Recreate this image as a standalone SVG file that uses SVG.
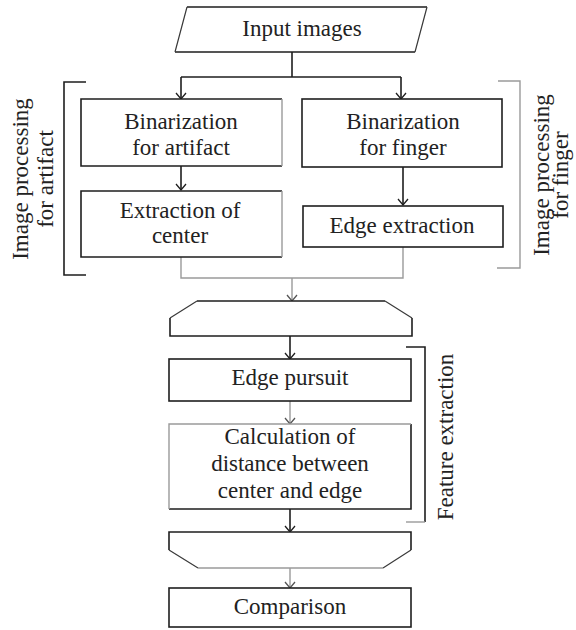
<svg xmlns="http://www.w3.org/2000/svg" width="576" height="630" viewBox="0 0 576 630">
<style>
  .bg{fill:#ffffff}
  .k{fill:none;stroke:#1e1e1e;stroke-width:1.6}
  .s{fill:none;stroke:#3a3a3a;stroke-width:1.2}
  .g{fill:none;stroke:#9a9a9a;stroke-width:1.4}
  .box{fill:#ffffff}
  text{font-family:"Liberation Serif","Times New Roman",serif;font-size:23px;fill:#222;text-anchor:middle}
</style>
<defs>
  <marker id="ak" markerUnits="userSpaceOnUse" markerWidth="14" markerHeight="14" viewBox="-8 -7 10 14" refX="0" refY="0" orient="auto">
    <path d="M-6,-5 L0,0 L-6,5" fill="none" stroke="#1e1e1e" stroke-width="1.3"/>
  </marker>
  <marker id="ag" markerUnits="userSpaceOnUse" markerWidth="14" markerHeight="14" viewBox="-8 -7 10 14" refX="0" refY="0" orient="auto">
    <path d="M-6,-5 L0,0 L-6,5" fill="none" stroke="#555" stroke-width="1.3"/>
  </marker>
</defs>
<rect class="bg" x="0" y="0" width="576" height="630"/>

<g id="connectors">
  <path class="k" d="M292,52 V77"/>
  <path class="k" d="M181,77 H401"/>
  <path class="k" d="M181,77 V99" marker-end="url(#ak)"/>
  <path class="k" d="M401,77 V99" marker-end="url(#ak)"/>
  <path class="k" d="M181,166 V190" marker-end="url(#ak)"/>
  <path class="k" d="M403,167 V205" marker-end="url(#ak)"/>
  <path class="g" d="M181,257 V278 H403 V247"/>
  <path class="g" d="M292,278 V301" marker-end="url(#ag)"/>
  <path class="k" d="M290,336 V359" marker-end="url(#ak)"/>
  <path class="g" d="M290,401 V424" marker-end="url(#ag)"/>
  <path class="k" d="M290,509 V532" marker-end="url(#ak)"/>
  <path class="g" d="M290,568 V588" marker-end="url(#ag)"/>
</g>

<g id="input">
  <polygon class="box" points="187,7 427,7 415,52 175,52"/>
  <path class="k" d="M187,7 H427 M175,52 H415"/>
  <path class="s" d="M187,7 L175,52 M427,7 L415,52"/>
  <text x="302" y="36">Input images</text>
</g>

<g id="bin_artifact">
  <rect class="box" x="81" y="99" width="201" height="67"/>
  <path class="k" d="M282,99 H81 V166 H282"/>
  <path class="g" d="M282,99 V166"/>
  <text x="181" y="129">Binarization</text>
  <text x="181" y="155">for artifact</text>
</g>

<g id="bin_finger">
  <rect class="k box" x="302" y="99" width="200" height="68"/>
  <text x="403" y="129">Binarization</text>
  <text x="403" y="155">for finger</text>
</g>

<g id="extract_center">
  <rect class="box" x="81" y="191" width="201" height="66"/>
  <path class="k" d="M282,191 H81 V257 H282"/>
  <path class="g" d="M282,191 V257"/>
  <text x="180" y="218">Extraction of</text>
  <text x="180" y="243">center</text>
</g>

<g id="edge_extract">
  <rect class="k box" x="303" y="206" width="200" height="41"/>
  <text x="402" y="233">Edge extraction</text>
</g>

<g id="bracket_artifact">
  <path class="k" d="M86,82 H64 V275 H86"/>
  <text transform="translate(28,179) rotate(-90)" x="0" y="0">Image processing</text>
  <text transform="translate(53,179) rotate(-90)" x="0" y="0">for artifact</text>
</g>

<g id="bracket_finger">
  <path class="g" d="M498,81 H520 V268 H497"/>
  <text transform="translate(549,175) rotate(-90)" x="0" y="0">Image processing</text>
  <text transform="translate(568,175) rotate(-90)" x="0" y="0">for finger</text>
</g>

<g id="loop_start">
  <polygon class="box" points="197,301 385,301 412,318 412,336 170,336 170,318"/>
  <path class="k" d="M197,301 H385 M412,318 V336 H170 V318"/>
  <path class="s" d="M197,301 L170,318 M385,301 L412,318"/>
</g>

<g id="edge_pursuit">
  <rect class="k box" x="169" y="359" width="242" height="42"/>
  <text x="290" y="385">Edge pursuit</text>
</g>

<g id="calc_distance">
  <rect class="box" x="169" y="424" width="242" height="85"/>
  <path class="k" d="M411,424 V509 H169"/>
  <path class="g" d="M169,509 V424 H411"/>
  <text x="290" y="444">Calculation of</text>
  <text x="290" y="471">distance between</text>
  <text x="290" y="498">center and edge</text>
</g>

<g id="bracket_feature">
  <path class="k" d="M406,347 H425 V522"/>
  <path class="g" d="M425,522 H406"/>
  <text transform="translate(453,437) rotate(-90)" x="0" y="0">Feature extraction</text>
</g>

<g id="loop_end">
  <polygon class="box" points="169,532 411,532 411,550 383,568 198,568 169,550"/>
  <path class="k" d="M169,550 V532 H411 V550"/>
  <path class="s" d="M169,550 L198,568 M411,550 L383,568"/>
  <path class="g" d="M198,568 H383"/>
</g>

<g id="comparison">
  <rect class="k box" x="169" y="588" width="242" height="39"/>
  <text x="290" y="614">Comparison</text>
</g>
</svg>
